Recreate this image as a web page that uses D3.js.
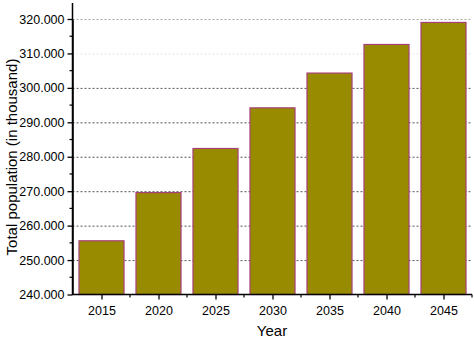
<!DOCTYPE html>
<html><head><meta charset="utf-8">
<script src="https://cdn.jsdelivr.net/npm/d3@7"></script>
<style>body{margin:0;background:#fff}svg{display:block}text{font-family:Arial,"Liberation Sans",sans-serif}</style>
</head><body>
<script>
const years = ["2015","2020","2025","2030","2035","2040","2045"];
const population = [255.6, 269.6, 282.4, 294.2, 304.3, 312.6, 319.0];
const yTicks = [240,250,260,270,280,290,300,310,320];

const W=474,H=338;
const svg=d3.select("body").append("svg").attr("width",W).attr("height",H);
const mLeft=72.5, mRight=472, mTop=19, mBottom=294.5;
const x=d3.scaleBand().domain(years).range([mLeft+0.5,mRight]).paddingInner(0.21).paddingOuter(0.105);
const xc=d3.scalePoint().domain(years).range([mLeft+0.5,mRight]).padding(0.5);
const y=d3.scaleLinear().domain([240,320]).range([mBottom,mTop]);

// gridlines
svg.append("g").selectAll("line").data(yTicks.filter(d=>d>240)).join("line")
  .attr("x1",mLeft).attr("x2",mRight).attr("y1",d=>y(d)+0.5).attr("y2",d=>y(d)+0.5)
  .attr("stroke",d=>d===310?"#e4e4e4":(d===320?"#aaa":"#555")).attr("stroke-width",1).attr("stroke-dasharray","2,2");

// bars
svg.append("g").selectAll("rect").data(years).join("rect")
  .attr("x",d=>x(d)).attr("width",x.bandwidth())
  .attr("y",(d,i)=>y(population[i])).attr("height",(d,i)=>mBottom-y(population[i]))
  .attr("fill","#998b00").attr("stroke","#a8407a").attr("stroke-width",1.2);

// y axis
const ya=svg.append("g").attr("transform",`translate(${mLeft},0)`)
  .call(d3.axisLeft(y).tickValues(yTicks).tickFormat(d3.format(".3f")).tickSize(5).tickSizeOuter(0));
ya.select(".domain").attr("stroke","#000").attr("stroke-width",1.5);
ya.selectAll(".tick line").attr("stroke","#000").attr("stroke-width",1.3);
ya.selectAll("text").attr("font-size",12.5).attr("fill","#000").attr("x",-8);
// y minor ticks
svg.append("g").selectAll("line").data(d3.range(245,320,10)).join("line")
  .attr("x1",mLeft-3).attr("x2",mLeft).attr("y1",d=>y(d)).attr("y2",d=>y(d)).attr("stroke","#000").attr("stroke-width",1.2);
// extend y axis line above
svg.append("line").attr("x1",mLeft).attr("x2",mLeft).attr("y1",3).attr("y2",mBottom).attr("stroke","#000").attr("stroke-width",1.5);

// x axis
const xa=svg.append("g").attr("transform",`translate(0,${mBottom})`)
  .call(d3.axisBottom(xc).tickSize(5).tickSizeOuter(0));
xa.select(".domain").remove();
svg.append("line").attr("x1",mLeft).attr("x2",mRight).attr("y1",mBottom).attr("y2",mBottom).attr("stroke","#000").attr("stroke-width",1.5);
xa.selectAll(".tick line").attr("stroke","#000").attr("stroke-width",1.3);
xa.selectAll("text").attr("font-size",12.5).attr("fill","#000").attr("y",12);
// x minor ticks
const step=xc.step();
svg.append("g").selectAll("line").data(years).join("line")
  .attr("x1",d=>xc(d)+step/2).attr("x2",d=>xc(d)+step/2).attr("y1",mBottom).attr("y2",mBottom+3)
  .attr("stroke","#000").attr("stroke-width",1.2);

// titles
svg.append("text").attr("x",272).attr("y",336).attr("text-anchor","middle").attr("font-size",15).text("Year");
svg.append("text").attr("transform","translate(17,157) rotate(-90)").attr("text-anchor","middle").attr("font-size",15).text("Total population (in thousand)");
</script>
</body></html>
